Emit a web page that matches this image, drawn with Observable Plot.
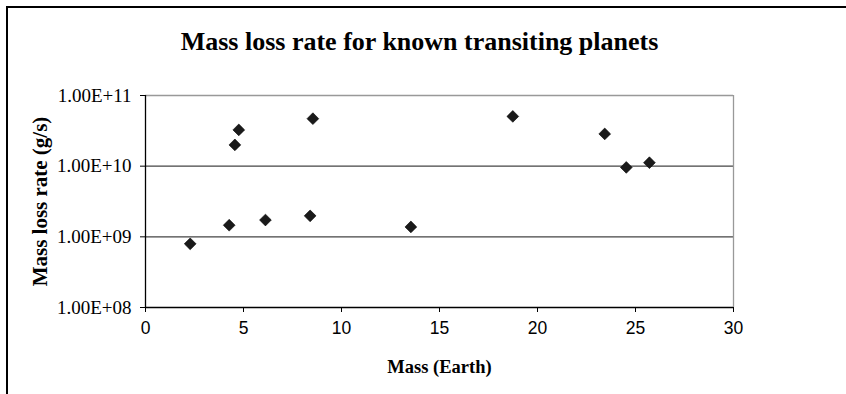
<!DOCTYPE html>
<html>
<head>
<meta charset="utf-8">
<script src="https://cdn.jsdelivr.net/npm/d3@7"></script>
<script src="https://cdn.jsdelivr.net/npm/@observablehq/plot@0.6"></script>
<style>
  html, body { margin: 0; padding: 0; background: #fff; }
  #wrap { position: relative; width: 846px; height: 394px; overflow: hidden; }
  #frame { position: absolute; left: 6px; top: 6px; width: 900px; height: 500px;
           border-left: 2px solid #000; border-top: 2px solid #000; box-sizing: border-box; pointer-events: none; }
  #wrap svg { position: absolute; left: 0; top: 0; }
</style>
</head>
<body>
<div id="wrap"><div id="frame"></div></div>
<script>
const title = "Mass loss rate for known transiting planets";
const xLabel = "Mass (Earth)";
const yLabel = "Mass loss rate (g/s)";
const mass = [2.28, 4.27, 6.12, 8.40, 13.54, 4.56, 4.76, 8.54, 18.74, 23.43, 24.53, 25.71];
const lossRate = [7.96e8, 1.46e9, 1.73e9, 1.98e9, 1.38e9, 2.0e10, 3.26e10, 4.7e10, 5.06e10, 2.86e10, 9.6e9, 1.12e10];
const xTicks = [0, 5, 10, 15, 20, 25, 30];
const yTicks = [1e8, 1e9, 1e10, 1e11];
const yTickLabels = ["1.00E+08", "1.00E+09", "1.00E+10", "1.00E+11"];

const data = mass.map((m, i) => ({m, r: lossRate[i]}));

const chart = Plot.plot({
  width: 846,
  height: 394,
  marginLeft: 145,
  marginRight: 113,
  marginTop: 95,
  marginBottom: 87,
  style: {background: "transparent", overflow: "visible"},
  x: {domain: [0, 30], ticks: xTicks, label: null},
  y: {type: "log", domain: [1e8, 1e11], ticks: yTicks, label: null},
  marks: [
    Plot.ruleY([1e9, 1e10], {stroke: "#444", strokeWidth: 1.3}),
    Plot.ruleY([1e11], {stroke: "#999", strokeWidth: 1.3}),
    Plot.ruleX([30], {stroke: "#999", strokeWidth: 1.3}),
    Plot.axisX({ticks: xTicks, tickSize: 5, tickPadding: 9, label: null,
      fontFamily: "Liberation Sans, Arial, sans-serif", fontSize: 17.5, stroke: "#000"}),
    Plot.axisY({ticks: yTicks, tickSize: 5, tickPadding: 9, label: null,
      tickFormat: d => yTickLabels[yTicks.indexOf(d)],
      fontFamily: "Liberation Serif, Times New Roman, serif", fontSize: 19, stroke: "#000"}),
    Plot.ruleY([1e8], {stroke: "#000", strokeWidth: 1.3}),
    Plot.ruleX([0], {stroke: "#000", strokeWidth: 1.3}),
    Plot.dot(data, {x: "m", y: "r", symbol: "diamond2", r: 5.3, fill: "#1a1a1a", stroke: "#000", strokeWidth: 0.6}),
    Plot.text([title], {frameAnchor: "top", dy: -64, dx: -20, text: d => d, textAnchor: "middle",
      fontFamily: "Liberation Serif, Times New Roman, serif", fontWeight: "bold", fontSize: 26, fill: "#000"}),
    Plot.text([xLabel], {frameAnchor: "bottom", dy: 65, text: d => d, textAnchor: "middle",
      fontFamily: "Liberation Serif, Times New Roman, serif", fontWeight: "bold", fontSize: 18.5, fill: "#000"}),
    Plot.text([yLabel], {frameAnchor: "left", dx: -105, text: d => d, rotate: -90, textAnchor: "middle",
      fontFamily: "Liberation Serif, Times New Roman, serif", fontWeight: "bold", fontSize: 21, fill: "#000"})
  ]
});
document.getElementById("wrap").appendChild(chart);
</script>
</body>
</html>
